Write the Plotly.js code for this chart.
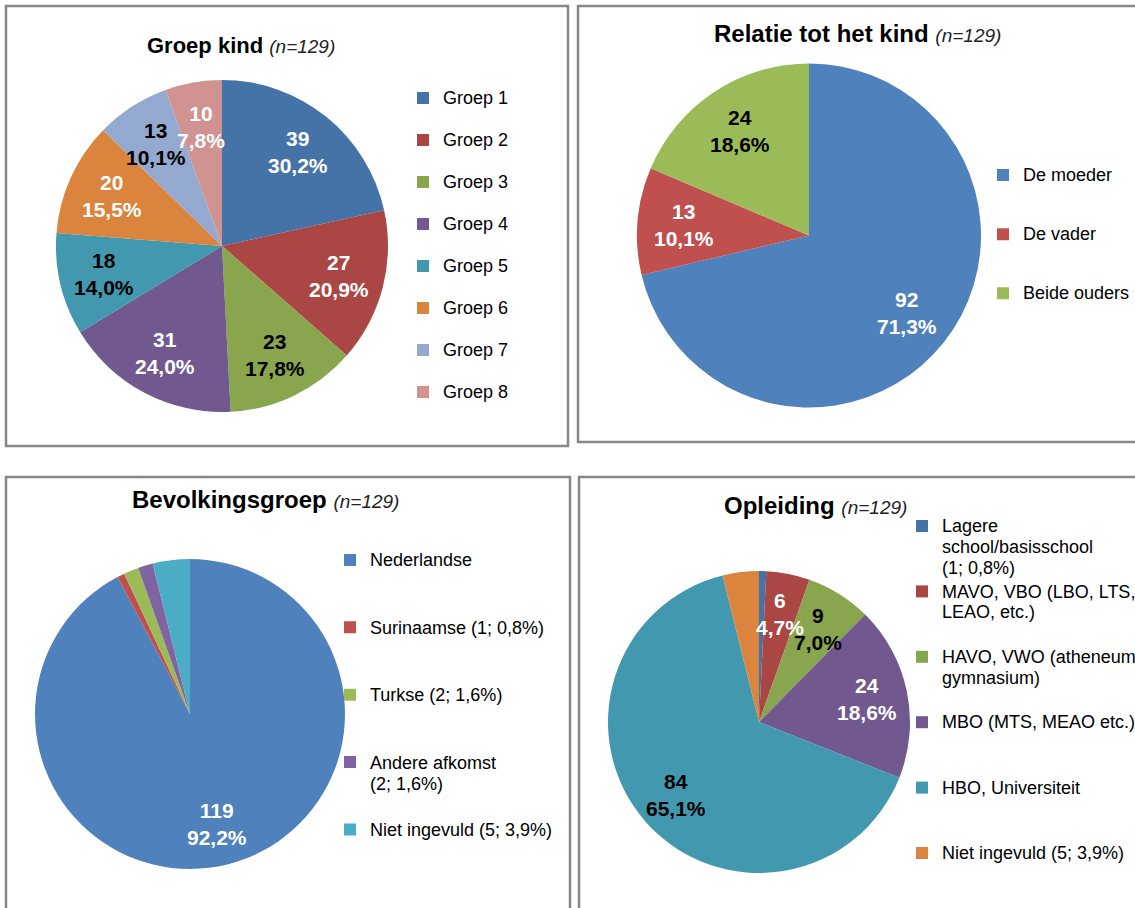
<!DOCTYPE html>
<html><head><meta charset="utf-8">
<script src="https://cdn.plot.ly/plotly-3.0.1.min.js"></script>
<style>html,body{margin:0;padding:0;background:#fff;overflow:hidden;} #chart{width:1135px;height:908px;}</style>
</head><body><div id="chart"></div>
<script>
// ---------------- data ----------------
const N_TOTAL = 129;

const groepLabels = ['Groep 1', 'Groep 2', 'Groep 3', 'Groep 4', 'Groep 5', 'Groep 6', 'Groep 7', 'Groep 8'];
const groepValues = [39, 27, 23, 31, 18, 20, 13, 10];

const relatieLabels = ['De moeder', 'De vader', 'Beide ouders'];
const relatieValues = [92, 13, 24];

const bevolkingLabels = ['Nederlandse', 'Surinaamse (1; 0,8%)', 'Turkse (2; 1,6%)', 'Andere afkomst|(2; 1,6%)', 'Niet ingevuld (5; 3,9%)'];
const bevolkingValues = [119, 1, 2, 2, 5];
const bevolkingShowText = [true, false, false, false, false];

const opleidingLabels = ['Lagere|school/basisschool|(1; 0,8%)', 'MAVO, VBO (LBO, LTS,|LEAO, etc.)', 'HAVO, VWO (atheneum,|gymnasium)', 'MBO (MTS, MEAO etc.)', 'HBO, Universiteit', 'Niet ingevuld (5; 3,9%)'];
const opleidingValues = [1, 6, 9, 24, 84, 5];
const opleidingShowText = [false, true, true, true, true, false];

const titles = ['Groep kind', 'Relatie tot het kind', 'Bevolkingsgroep', 'Opleiding'];

// ---------------- styles ----------------
const W = 1135, H = 908;
const FONT = 'Liberation Sans, Arial, sans-serif';
const darkPal = ['#4572A7', '#AA4643', '#89A54E', '#71588F', '#4198AF', '#DB843D', '#93A9CF', '#D19392'];
const lightPal = ['#4F81BD', '#C0504D', '#9BBB59', '#8064A2', '#4BACC6'];
const LABEL_R = 0.73;   // data labels sit along each slice's mid-angle at this fraction of the radius

function pct(v) { return (v / N_TOTAL * 100).toFixed(1).replace('.', ',') + '%'; }
// each pie gets its own span style so equal label texts in different pies stay separate legend entries
function legendText(labels, lines, size, color) {
  return labels.map((l, i) => {
    const parts = l.split('|').map(p => '<span style="font-size:' + size + 'px;color:' + color + '">' + p + '</span>');
    if (i < labels.length - 1) { while (parts.length < lines) parts.push('\u00a0'); }
    return parts.join('<br>');
  });
}

// pie geometry (centre and radius in px)
const pies = [
  { cx: 222, cy: 246, r: 166 },
  { cx: 809, cy: 235.5, r: 172 },
  { cx: 190, cy: 714, r: 155 },
  { cx: 759, cy: 722, r: 151 }
];
function dom(p) {
  return { x: [(p.cx - p.r) / W, (p.cx + p.r) / W], y: [1 - (p.cy + p.r) / H, 1 - (p.cy - p.r) / H] };
}

// data labels placed from the slice values (mid-angle, clockwise from 12 o'clock)
function sliceLabels(values, p, colors, show) {
  const total = values.reduce((a, b) => a + b, 0);
  let cum = 0;
  const out = [];
  values.forEach((v, i) => {
    const mid = (cum + v / 2) / total * 2 * Math.PI;
    cum += v;
    if (show && !show[i]) return;
    const px = p.cx + LABEL_R * p.r * Math.sin(mid);
    const py = p.cy - LABEL_R * p.r * Math.cos(mid);
    out.push({
      xref: 'paper', yref: 'paper', x: px / W, y: 1 - py / H, xanchor: 'center', yanchor: 'middle',
      showarrow: false, align: 'center',
      text: '<b>' + v + '<br>' + pct(v) + '</b>',
      font: { family: FONT, size: 21, color: Array.isArray(colors) ? colors[i] : colors }
    });
  });
  return out;
}

function basePie(extra) {
  return Object.assign({
    type: 'pie', sort: false, direction: 'clockwise', rotation: 0,
    textinfo: 'none', hoverinfo: 'skip'
  }, extra);
}

const traces = [
  basePie({ labels: legendText(groepLabels, 2, 18, '#000'), values: groepValues, domain: dom(pies[0]),
    marker: { colors: darkPal, line: { width: 0 } }, legend: 'legend' }),
  basePie({ labels: legendText(relatieLabels, 3, 18, '#000'), values: relatieValues, domain: dom(pies[1]),
    marker: { colors: lightPal.slice(0, 3), line: { width: 0 } }, legend: 'legend2' }),
  basePie({ labels: legendText(bevolkingLabels, 3, 18, '#000'), values: bevolkingValues, domain: dom(pies[2]),
    marker: { colors: lightPal, line: { width: 0 } }, legend: 'legend3' }),
  basePie({ labels: legendText(opleidingLabels, 3, 18, '#000001'), values: opleidingValues, domain: dom(pies[3]),
    marker: { colors: darkPal.slice(0, 6), line: { width: 0 } }, legend: 'legend4' })
];

// legend: first marker centre = top + 0.5*1.3*size + 6.5
function leg(textLeft, firstY, size) {
  const top = firstY - 0.65 * size - 6.5;
  return {
    x: (textLeft - 40) / W, y: 1 - top / H, xanchor: 'left', yanchor: 'top',
    bgcolor: 'rgba(0,0,0,0)', borderwidth: 0, valign: 'top',
    font: { family: FONT, size: size, color: '#000' },
    itemclick: false, itemdoubleclick: false
  };
}
function box(x0, y0, x1, y1) {
  return { type: 'rect', xref: 'paper', yref: 'paper', x0: x0 / W, x1: x1 / W, y0: 1 - y0 / H, y1: 1 - y1 / H,
    line: { color: '#878787', width: 2.5 }, layer: 'below' };
}
function title(txt, cx, cy, size) {
  return {
    xref: 'paper', yref: 'paper', x: cx / W, y: 1 - cy / H, xanchor: 'center', yanchor: 'middle',
    showarrow: false,
    text: '<b>' + txt + '</b> <i><span style="font-size:19px;color:#222">(n=' + N_TOTAL + ')</span></i>',
    font: { family: FONT, size: size, color: '#000' }
  };
}

const annotations = [
  title(titles[0], 241, 46, 22), title(titles[1], 857, 33, 24),
  title(titles[2], 265, 500, 24), title(titles[3], 815, 505, 24)
].concat(
  sliceLabels(groepValues, pies[0], ['#fff', '#fff', '#000', '#fff', '#000', '#fff', '#000', '#fff']),
  sliceLabels(relatieValues, pies[1], ['#fff', '#fff', '#000']),
  sliceLabels(bevolkingValues, pies[2], '#fff', bevolkingShowText),
  sliceLabels(opleidingValues, pies[3], ['#fff', '#fff', '#000', '#fff', '#000', '#fff'], opleidingShowText)
);

const layout = {
  width: W, height: H, margin: { l: 0, r: 0, t: 0, b: 0, autoexpand: false },
  paper_bgcolor: '#fff', plot_bgcolor: '#fff',
  showlegend: true,
  legend: leg(443, 98, 15),
  legend2: leg(1023, 175, 14.4),
  legend3: leg(370, 560, 16.5),
  legend4: leg(942, 526, 16.0),
  shapes: [box(6, 6, 568, 446), box(578, 6, 1145, 442), box(6, 477, 570, 920), box(579, 477, 1145, 920)],
  annotations: annotations
};

Plotly.newPlot('chart', traces, layout, { staticPlot: true, displayModeBar: false });
</script>
</body></html>
